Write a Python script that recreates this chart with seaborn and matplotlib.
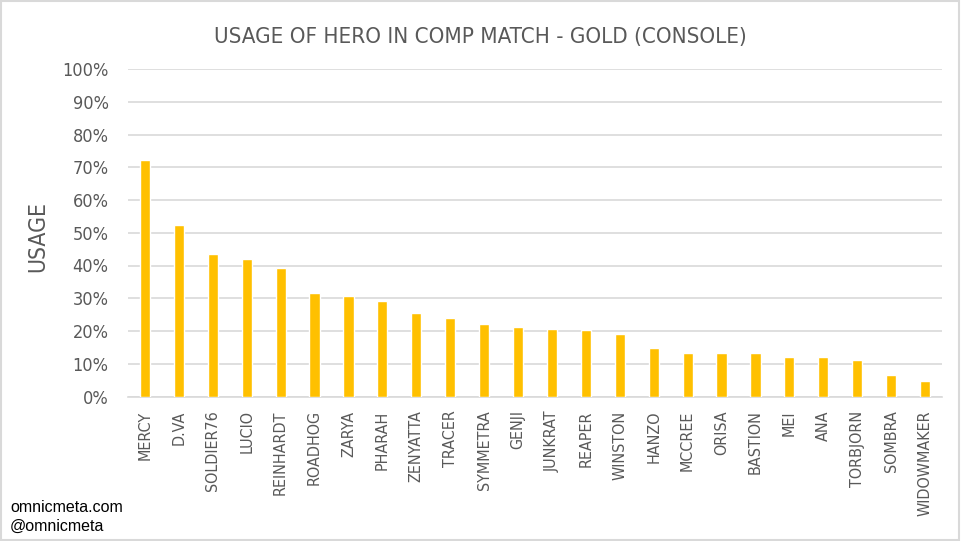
import matplotlib
matplotlib.use("Agg")
import matplotlib.pyplot as plt
import seaborn as sns
import pandas as pd
from matplotlib.ticker import FuncFormatter, MultipleLocator
from matplotlib.patches import Rectangle

heroes = ["MERCY", "D.VA", "SOLDIER76", "LUCIO", "REINHARDT", "ROADHOG", "ZARYA",
          "PHARAH", "ZENYATTA", "TRACER", "SYMMETRA", "GENJI", "JUNKRAT", "REAPER",
          "WINSTON", "HANZO", "MCCREE", "ORISA", "BASTION", "MEI", "ANA", "TORBJORN",
          "SOMBRA", "WIDOWMAKER"]
usage = [72.2, 52.4, 43.6, 42.1, 39.1, 31.7, 30.7, 29.1, 25.6, 23.9, 22.1, 21.1,
         20.5, 20.3, 19.0, 14.8, 13.3, 13.3, 13.3, 12.0, 12.0, 11.2, 6.5, 4.8]
title = "USAGE OF HERO IN COMP MATCH - GOLD (CONSOLE)"
ylabel = "USAGE"
footer = ["omnicmeta.com", "@omnicmeta"]

df = pd.DataFrame({"hero": heroes, "usage": usage})

sns.set_theme(style="white")
plt.rcParams["font.family"] = ["DejaVu Sans"]
plt.rcParams["font.stretch"] = "condensed"
text_col = "#595959"

fig = plt.figure(figsize=(9.61, 5.41), dpi=100)
ax = fig.add_axes([128 / 961, 1 - 396.5 / 541, (942 - 128) / 961, (396.5 - 69) / 541])

sns.barplot(data=df, x="hero", y="usage", color="#FFC000", saturation=1,
            width=0.3, ax=ax, zorder=3)

ax.set_ylim(0, 100)
ax.set_xlim(-0.5, len(heroes) - 0.5)
ax.yaxis.set_major_locator(MultipleLocator(10))
ax.yaxis.set_major_formatter(FuncFormatter(lambda v, p: f"{int(round(v))}%"))
ax.grid(axis="y", color="#d9d9d9", linewidth=1.2, zorder=0)
ax.grid(axis="x", visible=False)
for s in ["top", "right", "left"]:
    ax.spines[s].set_visible(False)
ax.spines["bottom"].set_color("#d9d9d9")
ax.spines["bottom"].set_linewidth(1.2)
ax.tick_params(axis="both", length=0)
ax.tick_params(axis="y", pad=14, labelsize=13, labelcolor=text_col)
ax.tick_params(axis="x", pad=10, labelsize=11.5, labelcolor=text_col, rotation=90)
ax.set_xlabel("")
ax.set_ylabel("")

fig.text(38 / 961, 1 - 236 / 541, ylabel, rotation=90, ha="center", va="center",
         fontsize=16.5, color=text_col)
fig.text(0.5, 1 - 37 / 541, title, ha="center", va="center", fontsize=16,
         color=text_col)
fig.text(10 / 961, 1 - 508 / 541, footer[0], ha="left", va="center", fontsize=11.5,
         color="black", family=["Liberation Sans", "DejaVu Sans"], stretch="normal")
fig.text(10 / 961, 1 - 526 / 541, footer[1], ha="left", va="center", fontsize=11.5,
         color="black", family=["Liberation Sans", "DejaVu Sans"], stretch="normal")

fig.patches.append(Rectangle((0.001, 0.001), 0.997, 0.997, transform=fig.transFigure,
                             fill=False, edgecolor="#d9d9d9", linewidth=1.5))

fig.savefig("out.png", dpi=100, facecolor="white")
